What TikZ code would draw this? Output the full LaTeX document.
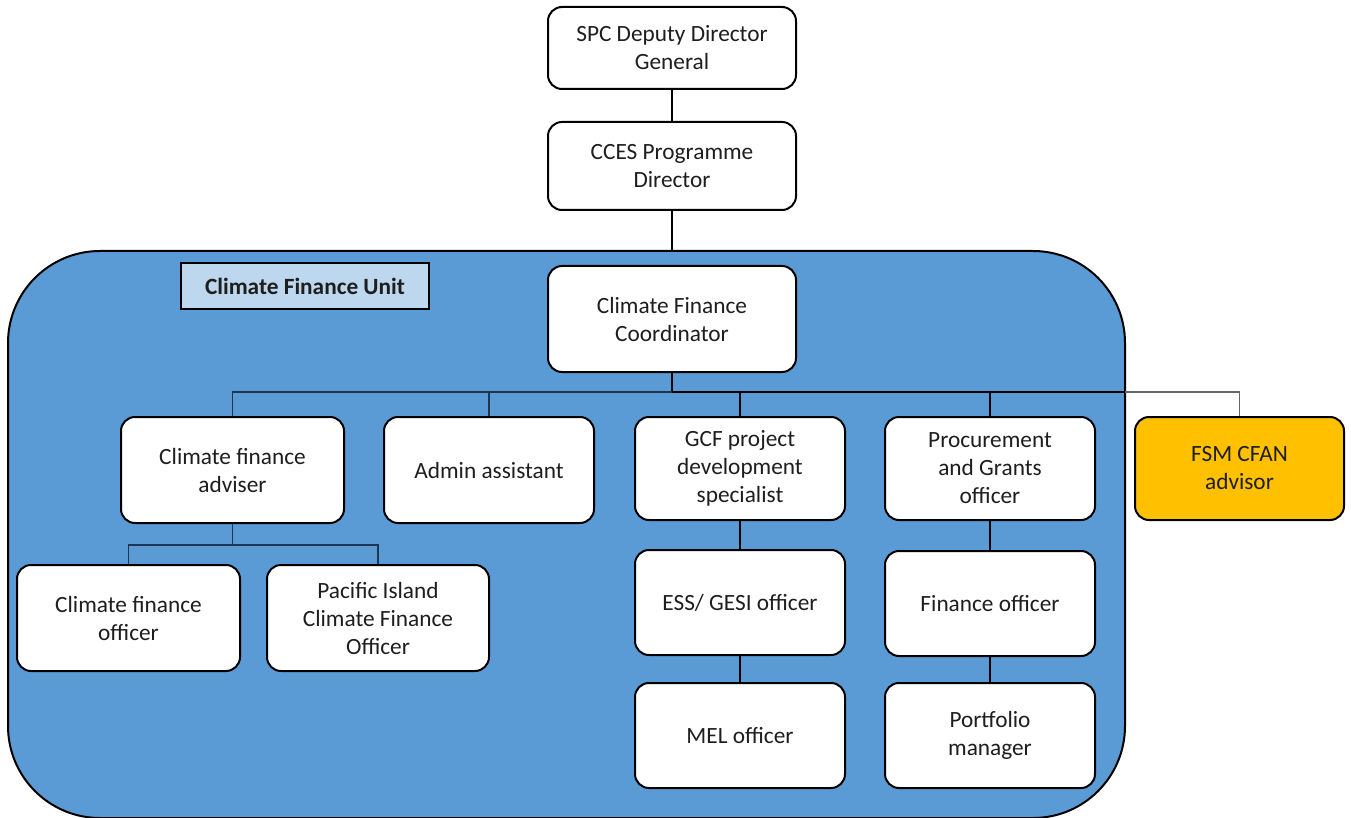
\documentclass[tikz,border=0pt]{standalone}
\usepackage{fontspec}
\setmainfont{Carlito}
\definecolor{unitblue}{HTML}{5B9BD5}
\definecolor{labelblue}{HTML}{BDD7EE}
\definecolor{fsmgold}{HTML}{FFC000}
\definecolor{txt}{HTML}{1E1E1E}
\definecolor{busnavy}{HTML}{1F3550}
\begin{document}
\begin{tikzpicture}[x=1pt,y=-1pt,
  box/.style={draw=black, line width=2pt, rounded corners=14pt, fill=white,
    align=center, inner sep=0pt, text=txt,
    font=\fontsize{23.3pt}{28pt}\selectfont},
  conn/.style={draw=black, line width=2pt},
  thinconn/.style={draw=busnavy, line width=1.3pt},
  greyconn/.style={draw=gray!80!black, line width=1.5pt}]
\useasboundingbox (0,0) rectangle (1351,818);

% container
\node[draw=black, line width=2pt, fill=unitblue, rounded corners=92pt,
  minimum width=1117pt, minimum height=567pt, inner sep=0pt] (unit) at (566.5,534.5) {};

\node[draw=black, line width=2pt, fill=labelblue, minimum width=248pt, minimum height=46pt,
  inner sep=0pt, text=txt, font=\fontsize{23.3pt}{28pt}\selectfont\bfseries] (label) at (305,286) {Climate Finance Unit};

% top nodes
\node[box, minimum width=248pt, minimum height=82pt] (spc) at (672,48) {SPC Deputy Director\\General};
\node[box, minimum width=248pt, minimum height=88pt] (cces) at (672,166) {CCES Programme\\Director};
\node[box, minimum width=248pt, minimum height=106pt] (cfc) at (672,319) {Climate Finance\\Coordinator};

% second row
\node[box, minimum width=223pt, minimum height=106pt] (adv) at (232.5,470) {Climate finance\\adviser};
\node[box, minimum width=210pt, minimum height=106pt] (admin) at (489,470) {Admin assistant};
\node[box, minimum width=210pt, minimum height=103pt] (gcf) at (740,468.5) {GCF project\\development\\specialist};
\node[box, minimum width=210pt, minimum height=103pt] (proc) at (990,468.5) {Procurement\\and Grants\\officer};
\node[box, fill=fsmgold, minimum width=209pt, minimum height=103pt] (fsm) at (1239.5,468.5) {FSM CFAN\\advisor};

% third row
\node[box, minimum width=223pt, minimum height=106pt] (cfo) at (128.5,618) {Climate finance\\officer};
\node[box, minimum width=222pt, minimum height=106pt] (pico) at (378,618) {Pacific Island\\Climate Finance\\Officer};
\node[box, minimum width=210pt, minimum height=105pt] (ess) at (740,602.5) {ESS/ GESI officer};
\node[box, minimum width=210pt, minimum height=105pt] (fin) at (990,603.5) {Finance officer};
\node[box, minimum width=210pt, minimum height=105pt] (mel) at (740,735.5) {MEL officer};
\node[box, minimum width=210pt, minimum height=105pt] (port) at (990,735.5) {Portfolio\\manager};

% connectors
\coordinate (bus) at (672,392);
\coordinate (edge) at (1125,392);
\coordinate (sub) at (232.5,545);
\draw[conn] (spc.south) -- (cces.north);
\draw[conn] (cces.south) -- (cces.south |- unit.north);
\draw[conn] (cfc.south) -- (bus);
\draw[thinconn] (adv.north) -- (adv.north |- bus) -- (bus);
\draw[thinconn] (admin.north) -- (admin.north |- bus);
\draw[conn] (bus) -- (edge);
\draw[greyconn] (edge) -- (fsm.north |- bus) -- (fsm.north);
\draw[conn] (gcf.north) -- (gcf.north |- bus);
\draw[conn] (proc.north) -- (proc.north |- bus);
\draw[thinconn] (adv.south) -- (sub);
\draw[thinconn] (cfo.north) -- (cfo.north |- sub) -- (pico.north |- sub) -- (pico.north);
\draw[conn] (gcf.south) -- (ess.north);
\draw[conn] (ess.south) -- (mel.north);
\draw[conn] (proc.south) -- (fin.north);
\draw[conn] (fin.south) -- (port.north);
\end{tikzpicture}
\end{document}
